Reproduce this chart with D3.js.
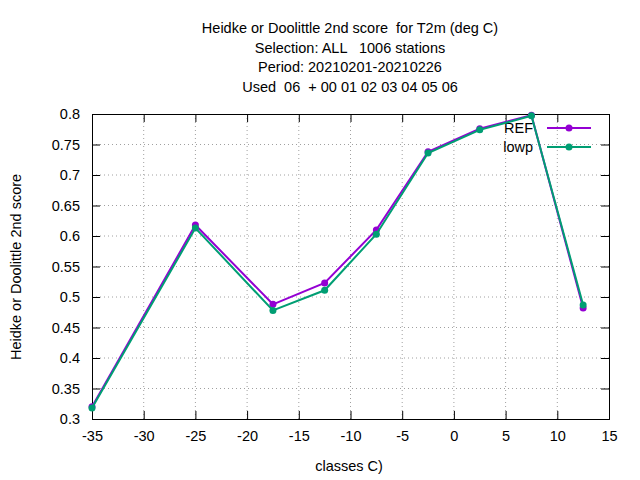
<!DOCTYPE html>
<html><head><meta charset="utf-8">
<script src="https://cdn.jsdelivr.net/npm/d3@7"></script>
<style>body{margin:0;background:#fff}text{font-family:"Liberation Sans",Arial,sans-serif;font-size:14.5px;fill:#000;white-space:pre}</style>
</head><body>
<svg id="c" width="640" height="480"></svg>
<script>
var classes = [-35, -25, -17.5, -12.5, -7.5, -2.5, 2.5, 7.5, 12.5];
var refVals = [0.320, 0.618, 0.488, 0.523, 0.610, 0.738, 0.776, 0.798, 0.482];
var lowpVals = [0.318, 0.613, 0.478, 0.511, 0.603, 0.736, 0.774, 0.797, 0.487];
var xTicks = [-35, -30, -25, -20, -15, -10, -5, 0, 5, 10, 15];
var yTicks = [0.3, 0.35, 0.4, 0.45, 0.5, 0.55, 0.6, 0.65, 0.7, 0.75, 0.8];
var titleLines = ["Heidke or Doolittle 2nd score  for T2m (deg C)", "Selection: ALL   1006 stations", "Period: 20210201-20210226", "Used  06  + 00 01 02 03 04 05 06"];

var svg = d3.select("#c");
var L = 92, R = 609, T = 114, B = 419;
var x = d3.scaleLinear().domain([-35, 15]).range([L, R]);
var y = d3.scaleLinear().domain([0.3, 0.8]).range([B, T]);

// grid
svg.append("g").selectAll("line").data(xTicks.slice(1, -1)).enter().append("line")
  .attr("x1", d => x(d)).attr("x2", d => x(d)).attr("y1", T).attr("y2", B)
  .attr("stroke", "#a0a0a0").attr("stroke-dasharray", "1,3");
svg.append("g").selectAll("line").data(yTicks.slice(1, -1)).enter().append("line")
  .attr("y1", d => y(d)).attr("y2", d => y(d)).attr("x1", L).attr("x2", R)
  .attr("stroke", "#a0a0a0").attr("stroke-dasharray", "1,3");

// axes with mirrored inward ticks
svg.append("g").attr("transform", `translate(0,${B})`)
  .call(d3.axisBottom(x).tickValues(xTicks).tickSize(-8).tickPadding(12).tickFormat(d => String(d)));
svg.append("g").attr("transform", `translate(0,${T})`)
  .call(d3.axisTop(x).tickValues(xTicks).tickSize(-8).tickFormat(""));
svg.append("g").attr("transform", `translate(${L},0)`)
  .call(d3.axisLeft(y).tickValues(yTicks).tickSize(-8).tickPadding(12).tickFormat(d => String(+d.toFixed(2))));
svg.append("g").attr("transform", `translate(${R},0)`)
  .call(d3.axisRight(y).tickValues(yTicks).tickSize(-8).tickFormat(""));
svg.selectAll(".domain").attr("stroke", "#000");
svg.selectAll(".tick line").attr("stroke", "#000");
svg.selectAll(".tick text").style("font-size", "14.5px").attr("fill", "#000");

// series
var series = [{name: "REF", vals: refVals, color: "#9400d3"}, {name: "lowp", vals: lowpVals, color: "#009e73"}];
var line = d3.line().x((d, i) => x(classes[i])).y(d => y(d));
series.forEach(function(s, k) {
  svg.append("path").datum(s.vals).attr("d", line)
    .attr("fill", "none").attr("stroke", s.color).attr("stroke-width", 2);
  svg.append("g").selectAll("circle").data(s.vals).enter().append("circle")
    .attr("cx", (d, i) => x(classes[i])).attr("cy", d => y(d)).attr("r", 3.5).attr("fill", s.color);
  var ly = 128 + k * 19;
  svg.append("text").attr("x", 533).attr("y", ly + 5).attr("text-anchor", "end").text(s.name);
  svg.append("line").attr("x1", 547).attr("x2", 591).attr("y1", ly).attr("y2", ly)
    .attr("stroke", s.color).attr("stroke-width", 2);
  svg.append("circle").attr("cx", 569).attr("cy", ly).attr("r", 3.5).attr("fill", s.color);
});

// titles
titleLines.forEach(function(t, i) {
  svg.append("text").attr("x", 350).attr("y", 33 + i * 19.5).attr("text-anchor", "middle")
    .attr("xml:space", "preserve").text(t);
});
svg.append("text").attr("x", 349).attr("y", 471).attr("text-anchor", "middle").text("classes C)");
svg.append("text").attr("transform", "translate(21,267) rotate(-90)").attr("text-anchor", "middle")
  .text("Heidke or Doolittle 2nd score");
</script>
</body></html>
